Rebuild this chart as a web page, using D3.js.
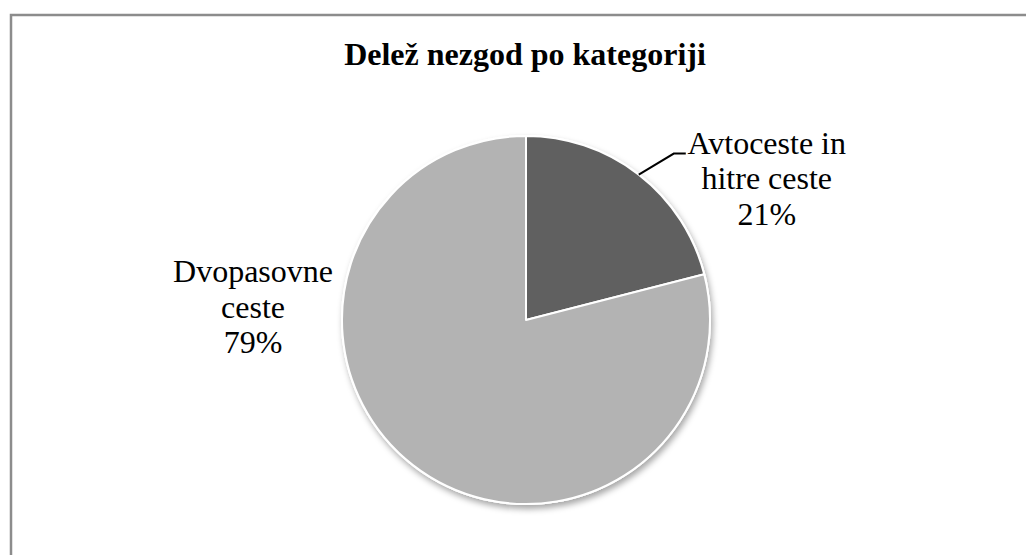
<!DOCTYPE html>
<html>
<head>
<meta charset="utf-8">
<script src="https://cdn.jsdelivr.net/npm/d3@7"></script>
<style>
  html, body { margin: 0; padding: 0; background: #fff; }
  svg { display: block; }
</style>
</head>
<body>
<svg id="chart" width="1026" height="555"></svg>
<script>
// Accident share by road category
const title = "Delež nezgod po kategoriji";
const categories = ["Avtoceste in hitre ceste", "Dvopasovne ceste"];
const labelLines = [["Avtoceste in", "hitre ceste"], ["Dvopasovne", "ceste"]];
const shares = [21, 79];
const sliceColors = ["#606060", "#b3b3b3"];

const W = 1026, H = 555;
const cx = 526, cy = 320, R = 184;
const serif = "'Liberation Serif', 'Times New Roman', Tinos, 'DejaVu Serif', serif";

const svg = d3.select("#chart").attr("font-family", serif);

// soft drop shadow under the pie
const defs = svg.append("defs");
const f = defs.append("filter").attr("id", "shadow")
  .attr("x", "-10%").attr("y", "-10%").attr("width", "125%").attr("height", "125%");
f.append("feDropShadow")
  .attr("dx", 2).attr("dy", 4).attr("stdDeviation", 3)
  .attr("flood-color", "#000").attr("flood-opacity", 0.35);

// chart area frame
svg.append("rect")
  .attr("x", 11).attr("y", 15)
  .attr("width", W + 20).attr("height", H + 20)
  .attr("fill", "#fff")
  .attr("stroke", "#8c8c8c").attr("stroke-width", 2.5);

svg.append("text")
  .attr("x", 525).attr("y", 65)
  .attr("text-anchor", "middle")
  .attr("font-family", serif)
  .attr("font-size", 32).attr("font-weight", "bold")
  .attr("fill", "#000")
  .text(title);

const pie = d3.pie().sort(null).value(d => d)(shares);
const arc = d3.arc().innerRadius(0).outerRadius(R);

const g = svg.append("g").attr("transform", `translate(${cx},${cy})`);

g.append("circle").attr("r", R + 1).attr("fill", "#fff").attr("filter", "url(#shadow)");

g.selectAll("path.slice")
  .data(pie)
  .join("path")
  .attr("class", "slice")
  .attr("d", arc)
  .attr("fill", (d, i) => sliceColors[i])
  .attr("stroke", "#fff")
  .attr("stroke-width", 2)
  .attr("stroke-linejoin", "round");

// leader line for the small slice, starting on its mid-angle at the rim
const a0 = (pie[0].startAngle + pie[0].endAngle) / 2;
const p0 = [Math.sin(a0) * R, -Math.cos(a0) * R];
const elbow = [p0[0] + 35, p0[1] - 21];
const lineEnd = [elbow[0] + 12, elbow[1]];
g.append("polyline")
  .attr("points", [p0, elbow, lineEnd].map(p => p.join(",")).join(" "))
  .attr("fill", "none").attr("stroke", "#000").attr("stroke-width", 2);

function drawLabel(x, y, lines, pct) {
  const t = g.append("text")
    .attr("text-anchor", "middle")
    .attr("font-family", serif)
    .attr("fill", "#000")
    .attr("font-size", 32);
  lines.concat([pct + "%"]).forEach((s, i) => {
    t.append("tspan").attr("x", x).attr("y", y + i * 35.5).text(s);
  });
}

// right label: first baseline aligned with the leader line end
drawLabel(lineEnd[0] + 81, lineEnd[1] + 0, labelLines[0], shares[0]);
// left label, placed beside the large slice
drawLabel(-R - 89, -38, labelLines[1], shares[1]);
</script>
</body>
</html>
